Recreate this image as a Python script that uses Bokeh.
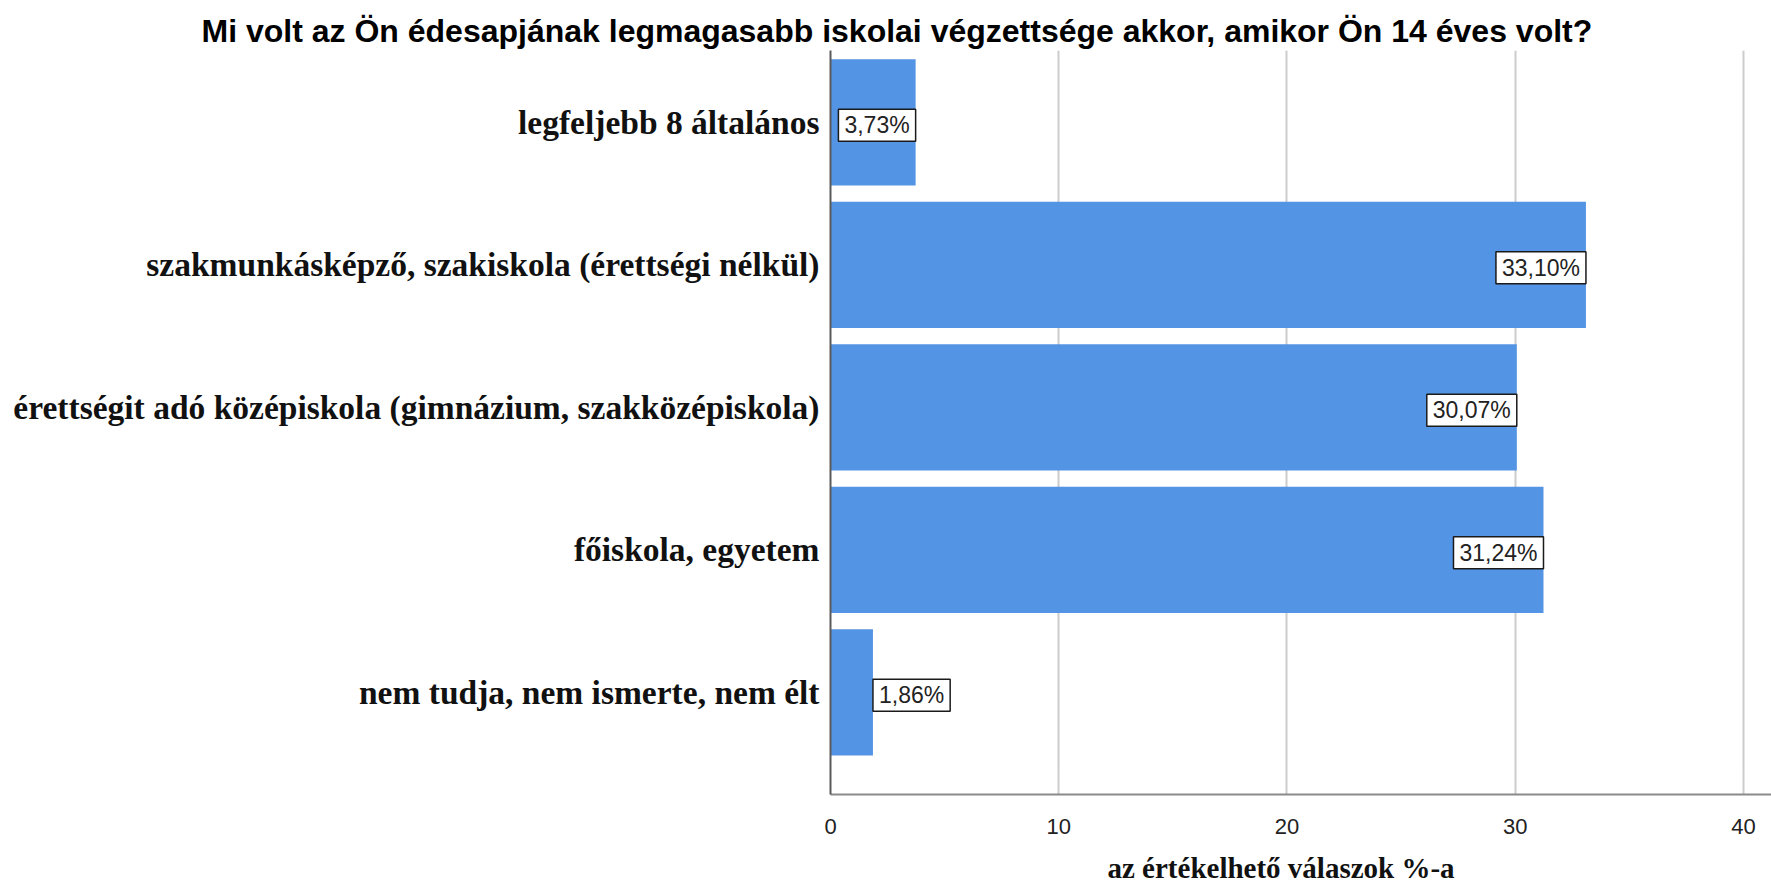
from bokeh.plotting import figure
from bokeh.models import ColumnDataSource, Range1d, FixedTicker, Label, Title
from bokeh.embed import file_html
from bokeh.resources import INLINE

title_text = "Mi volt az Ön édesapjának legmagasabb iskolai végzettsége akkor, amikor Ön 14 éves volt?"
categories = [
    "legfeljebb 8 általános",
    "szakmunkásképző, szakiskola (érettségi nélkül)",
    "érettségit adó középiskola (gimnázium, szakközépiskola)",
    "főiskola, egyetem",
    "nem tudja, nem ismerte, nem élt",
]
values = [3.73, 33.10, 30.07, 31.24, 1.86]
value_labels = ["3,73%", "33,10%", "30,07%", "31,24%", "1,86%"]
x_ticks = [0, 10, 20, 30, 40]
x_label = "az értékelhető válaszok %-a"

n = len(categories)
positions = [n - i for i in range(n)]

src = ColumnDataSource(dict(y=positions, v=values, cat=categories))

p = figure(width=1771, height=896, output_backend="svg", toolbar_location=None,
           x_range=Range1d(0, 41.23), y_range=Range1d(0.283, 5.504),
           min_border_left=830, min_border_right=0, min_border_top=50, min_border_bottom=100)
p.outline_line_color = None
p.background_fill_color = "white"

p.title.text = title_text
p.title.text_font = "Liberation Sans"
p.title.text_font_style = "bold"
p.title.text_font_size = "32px"
p.title.text_color = "#000000"
p.title.align = "left"
p.title.offset = -629
p.title.standoff = 4

p.hbar(y="y", left=0, right="v", height=0.885, source=src,
       fill_color="#5494e4", line_color=None)

# x axis
p.xaxis.ticker = FixedTicker(ticks=x_ticks)
p.xaxis.major_tick_line_color = None
p.xaxis.minor_tick_line_color = None
p.xaxis.axis_line_color = "#8a8a8a"
p.xaxis.axis_line_width = 2
p.xaxis.major_label_text_font = "Liberation Sans"
p.xaxis.major_label_text_font_size = "22px"
p.xaxis.major_label_text_color = "#222222"
p.xaxis.major_label_standoff = 18

# x axis title, a little left of the frame centre as in the original
p.add_layout(Title(text=x_label, align="left", offset=277, standoff=26,
                   vertical_align="bottom", text_line_height=0.7,
                   text_font="Liberation Serif", text_font_style="bold",
                   text_font_size="29px", text_color="#111111"), "below")

# y axis
p.yaxis.ticker = FixedTicker(ticks=positions)
p.yaxis.major_label_overrides = {pos: cat for pos, cat in zip(positions, categories)}
p.yaxis.major_tick_line_color = None
p.yaxis.minor_tick_line_color = None
p.yaxis.major_tick_out = 0
p.yaxis.minor_tick_out = 0
p.yaxis.axis_line_color = "#5a5a5a"
p.yaxis.axis_line_width = 2
p.yaxis.major_label_text_font = "Liberation Serif"
p.yaxis.major_label_text_font_style = "bold"
p.yaxis.major_label_text_font_size = "33.5px"
p.yaxis.major_label_text_color = "#111111"
p.yaxis.major_label_standoff = 11

p.xgrid.ticker = FixedTicker(ticks=[t for t in x_ticks if t > 0])
p.xgrid.grid_line_color = "#cccccc"
p.xgrid.grid_line_width = 2
p.ygrid.grid_line_color = None

for pos, v, lab in zip(positions, values, value_labels):
    inside = v > 3
    p.add_layout(Label(x=v, y=pos, text=lab,
                       text_align="right" if inside else "left",
                       text_baseline="middle",
                       x_offset=0, y_offset=-3,
                       text_font="Liberation Sans", text_font_size="23px",
                       text_color="#222222",
                       background_fill_color="white",
                       border_line_color="#1a1a1a", border_line_width=1.5,
                       padding=(6, 3)))

open("out.html", "w").write(file_html(p, INLINE))
